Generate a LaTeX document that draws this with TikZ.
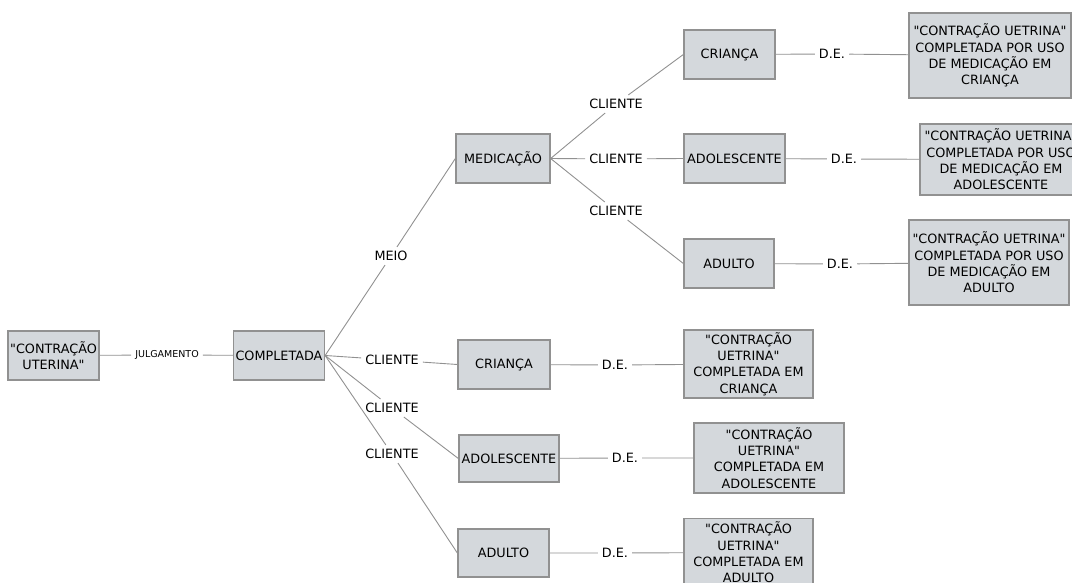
\documentclass[tikz,border=0pt]{standalone}
\usepackage{fontspec}
\setmainfont{DejaVu Sans}[Ligatures=TeXOff]
\definecolor{boxfill}{RGB}{212,216,220}
\definecolor{boxline}{RGB}{145,145,145}
\definecolor{linecol}{RGB}{145,145,145}
\begin{document}
\begin{tikzpicture}[x=1bp,y=-1bp,
	box/.style={draw=boxline,fill=boxfill,line width=1.3bp,align=center,inner sep=2bp,font=\fontsize{12.8bp}{16.3bp}\selectfont},
	lbl/.style={inner sep=4bp,font=\fontsize{12.8bp}{15bp}\selectfont},
	conn/.style={draw=linecol,line width=0.9bp}]
		\useasboundingbox (0,0) rectangle (1072,583);
		
		\node[box,minimum width=91bp,minimum height=49bp](cu)at(53.5,355.5) {"CONTRAÇÃO\\UTERINA"};
		\node[box,minimum width=90bp,minimum height=49bp](comp)at(279,355.5) {COMPLETADA};
		\node[box,minimum width=94bp,minimum height=49bp](med)at(503,158.5) {MEDICAÇÃO};
		
		\node[box,minimum width=91bp,minimum height=49bp](mcri)at(729.5,54.5) {CRIANÇA};
		\node[box,minimum width=101bp,minimum height=49bp](madol)at(734.5,158.5) {ADOLESCENTE};
		\node[box,minimum width=90bp,minimum height=49bp](madul)at(729,263.5) {ADULTO};
		
		\node[box,minimum width=162bp,minimum height=85bp](rcri)at(990,55.5) {"CONTRAÇÃO UETRINA"\\COMPLETADA POR USO\\DE MEDICAÇÃO EM\\CRIANÇA};
		\node[box,minimum width=162bp,minimum height=71bp](radol)at(1001,159.5) {"CONTRAÇÃO UETRINA"\\COMPLETADA POR USO\\DE MEDICAÇÃO EM\\ADOLESCENTE};
		\node[box,minimum width=160bp,minimum height=85bp](radul)at(989,262.5) {"CONTRAÇÃO UETRINA"\\COMPLETADA POR USO\\DE MEDICAÇÃO EM\\ADULTO};
		
		\node[box,minimum width=92bp,minimum height=49bp](cri)at(504,364.5) {CRIANÇA};
		\node[box,minimum width=100bp,minimum height=47bp](adol)at(509,458.5) {ADOLESCENTE};
		\node[box,minimum width=91bp,minimum height=48bp](adul)at(503.5,553) {ADULTO};
		
		\node[box,minimum width=129bp,minimum height=68bp](ecri)at(748.5,364) {"CONTRAÇÃO\\UETRINA"\\COMPLETADA EM\\CRIANÇA};
		\node[box,minimum width=150bp,minimum height=70bp](eadol)at(769,458) {"CONTRAÇÃO\\UETRINA"\\COMPLETADA EM\\ADOLESCENTE};
		\node[box,minimum width=129bp,minimum height=68bp](eadul)at(748.5,552.5) {"CONTRAÇÃO\\UETRINA"\\COMPLETADA EM\\ADULTO};
		
		% labels
		\node[lbl,font=\fontsize{9.5bp}{11bp}\selectfont](julg)at(167,355) {JULGAMENTO};
		\node[lbl](meio)at(391,256) {MEIO};
		\node[lbl](cl1)at(616,104) {CLIENTE};
		\node[lbl](cl2)at(616,159) {CLIENTE};
		\node[lbl](cl3)at(616,211) {CLIENTE};
		\node[lbl](cl4)at(392,360) {CLIENTE};
		\node[lbl](cl5)at(392,408) {CLIENTE};
		\node[lbl](cl6)at(392,454) {CLIENTE};
		\node[lbl](de1)at(832,54) {D.E.};
		\node[lbl](de2)at(844,159) {D.E.};
		\node[lbl](de3)at(840,264) {D.E.};
		\node[lbl](de4)at(615,365) {D.E.};
		\node[lbl](de5)at(625,458) {D.E.};
		\node[lbl](de6)at(615,553) {D.E.};
		
		\draw[conn](cu) -- (julg) -- (comp);
		\draw[conn](comp.east) -- (meio) -- (med.west);
		\draw[conn](med.east) -- (cl1) -- (mcri.west);
		\draw[conn](med.east) -- (cl2) -- (madol.west);
		\draw[conn](med.east) -- (cl3) -- (madul.west);
		\draw[conn](mcri) -- (de1) -- (rcri);
		\draw[conn](madol) -- (de2) -- (radol);
		\draw[conn](madul) -- (de3) -- (radul);
		\draw[conn](comp.east) -- (cl4) -- (cri.west);
		\draw[conn](comp.east) -- (cl5) -- (adol.west);
		\draw[conn](comp.east) -- (cl6) -- (adul.west);
		\draw[conn](cri) -- (de4) -- (ecri);
		\draw[conn](adol) -- (de5) -- (eadol);
		\draw[conn](adul) -- (de6) -- (eadul);
	\end{tikzpicture}
\end{document}
